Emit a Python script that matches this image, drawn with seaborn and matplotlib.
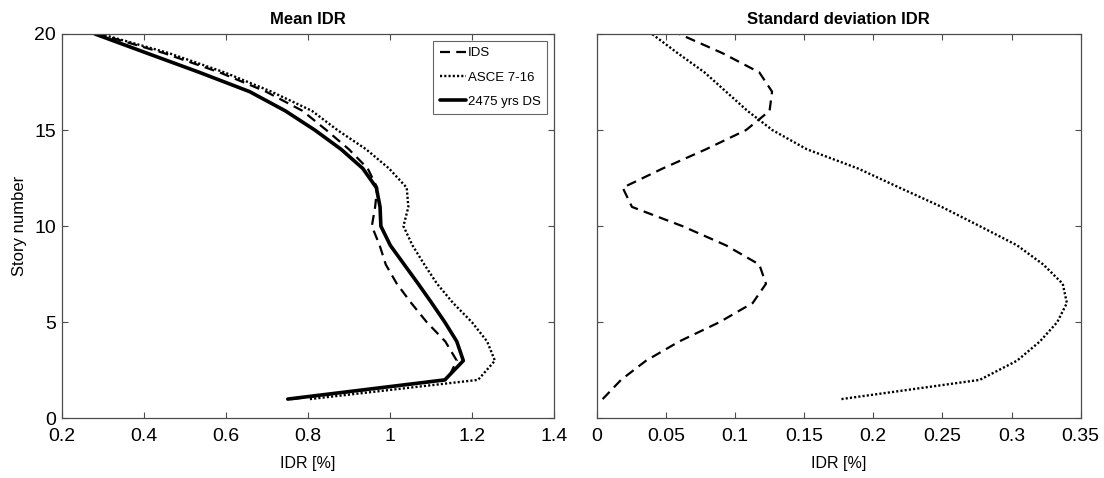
import matplotlib
matplotlib.use("Agg")
import matplotlib.pyplot as plt
import seaborn as sns
import pandas as pd

# ---------------- data ----------------
stories = list(range(1, 21))

mean_ids = [0.76, 1.14, 1.163, 1.135, 1.09, 1.052, 1.017, 0.99, 0.975, 0.956,
            0.964, 0.969, 0.946, 0.90, 0.845, 0.787, 0.698, 0.585, 0.45, 0.29]
mean_asce = [0.805, 1.215, 1.256, 1.237, 1.20, 1.154, 1.115, 1.084, 1.055, 1.033,
             1.045, 1.041, 0.998, 0.942, 0.872, 0.81, 0.711, 0.597, 0.462, 0.295]
mean_2475 = [0.751, 1.134, 1.179, 1.163, 1.134, 1.102, 1.069, 1.035, 1.001, 0.978,
             0.976, 0.967, 0.934, 0.881, 0.817, 0.745, 0.658, 0.536, 0.408, 0.281]

std_ids = [0.0043, 0.0176, 0.0357, 0.0597, 0.0887, 0.1128, 0.1224, 0.1176, 0.0935, 0.062,
           0.0255, 0.0188, 0.0477, 0.079, 0.108, 0.125, 0.1268, 0.1176, 0.091, 0.0597]
std_asce = [0.177, 0.277, 0.304, 0.3205, 0.333, 0.340, 0.337, 0.323, 0.304, 0.277,
            0.2495, 0.219, 0.189, 0.152, 0.127, 0.109, 0.0935, 0.078, 0.0586, 0.040]

labels = ["IDS", "ASCE 7-16", "2475 yrs DS"]
left_xticks = [0.2, 0.4, 0.6, 0.8, 1.0, 1.2, 1.4]
left_xticklabels = ["0.2", "0.4", "0.6", "0.8", "1", "1.2", "1.4"]
right_xticks = [0, 0.05, 0.1, 0.15, 0.2, 0.25, 0.3, 0.35]
right_xticklabels = ["0", "0.05", "0.1", "0.15", "0.2", "0.25", "0.3", "0.35"]
yticks = [0, 5, 10, 15, 20]

# ---------------- style ----------------
sns.set_style("white")
plt.rcParams["font.family"] = ["Liberation Sans", "DejaVu Sans"]
plt.rcParams["text.color"] = "black"
plt.rcParams["axes.labelcolor"] = "black"
plt.rcParams["xtick.color"] = "black"
plt.rcParams["ytick.color"] = "black"

fig = plt.figure(figsize=(11.04, 4.78), dpi=100)
ax1 = fig.add_axes([0.0559, 0.1249, 0.4459, 0.804])
ax2 = fig.add_axes([0.5405, 0.1249, 0.4384, 0.804])

styles = {
    "IDS": dict(color="black", linewidth=1.6, linestyle=(0, (4.5, 2.8))),
    "ASCE 7-16": dict(color="black", linewidth=1.7, linestyle=(0, (0.9, 0.9))),
    "2475 yrs DS": dict(color="black", linewidth=2.6, linestyle="-"),
}

for name, vals in zip(labels, [mean_ids, mean_asce, mean_2475]):
    df = pd.DataFrame({"IDR": vals, "Story": stories})
    sns.lineplot(data=df, x="IDR", y="Story", sort=False, estimator=None,
                 ax=ax1, label=name, **styles[name])

for name, vals in zip(labels[:2], [std_ids, std_asce]):
    df = pd.DataFrame({"IDR": vals, "Story": stories})
    sns.lineplot(data=df, x="IDR", y="Story", sort=False, estimator=None,
                 ax=ax2, legend=False, **styles[name])

spine_col = "#4d4d4d"
for ax in (ax1, ax2):
    ax.set_ylim(0, 20)
    ax.set_yticks(yticks)
    for s in ax.spines.values():
        s.set_visible(True)
        s.set_color(spine_col)
        s.set_linewidth(0.9)
    ax.tick_params(direction="in", length=4, width=0.8, color=spine_col,
                   top=True, right=True, bottom=True, left=True,
                   labelsize=14, labelcolor="black")
    ax.tick_params(axis="x", pad=7)
    ax.tick_params(axis="y", pad=4)
    ax.set_xlabel("IDR [%]", fontsize=11.5, labelpad=8, color="black")
    ax.grid(False)

ax1.set_xlim(0.2, 1.4)
ax1.set_xticks(left_xticks)
ax1.set_xticklabels(left_xticklabels)
ax1.set_ylabel("Story number", fontsize=12, labelpad=5, color="black")
ax1.set_title("Mean IDR", fontsize=12, fontweight="bold", pad=7, color="black")

ax2.set_xlim(0, 0.35)
ax2.set_xticks(right_xticks)
ax2.set_xticklabels(right_xticklabels)
ax2.set_ylabel("")
ax2.set_yticklabels([])
ax2.set_title("Standard deviation IDR", fontsize=12, fontweight="bold", pad=7,
              color="black")

leg = ax1.legend(loc="upper right", fontsize=9.5, frameon=True, fancybox=False,
                 framealpha=1, edgecolor="#666666", handlelength=2.0,
                 handletextpad=0.15, labelspacing=0.9, borderpad=0.5,
                 borderaxespad=0.5)
leg.get_frame().set_linewidth(0.8)
for t in leg.get_texts():
    t.set_color("black")

fig.savefig("out.png", dpi=100)
